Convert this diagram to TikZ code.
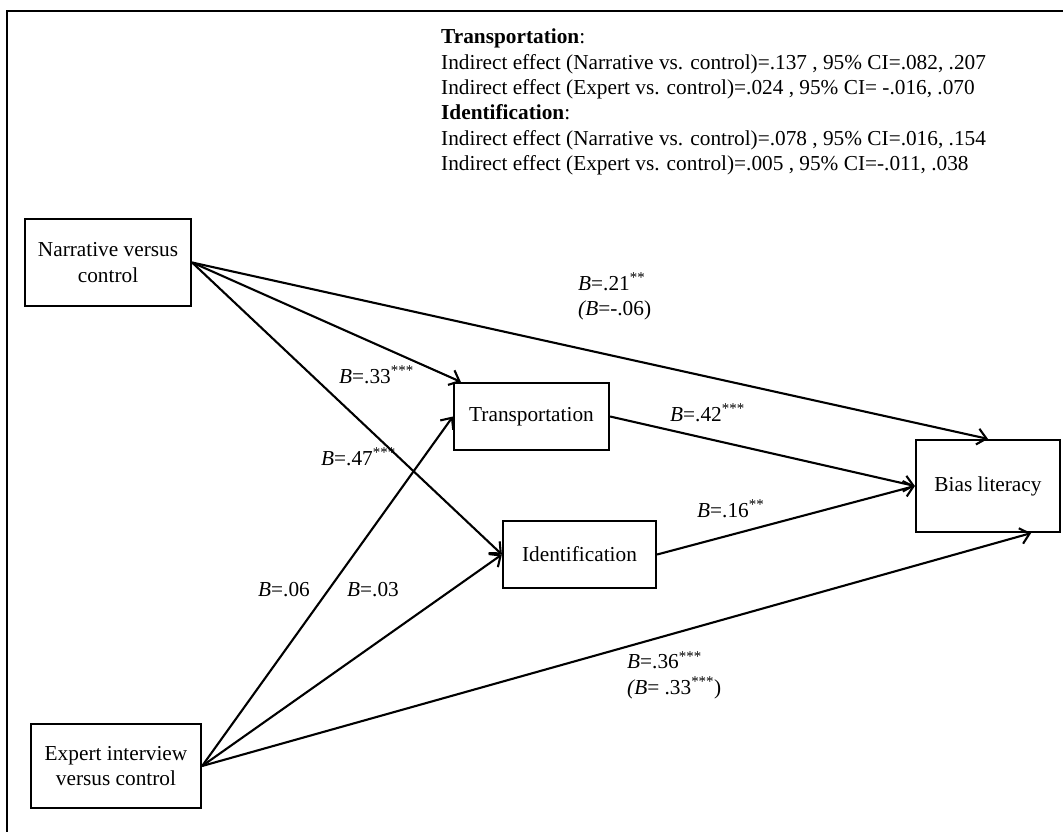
\documentclass[tikz,border=0pt]{standalone}
\usepackage{fontspec}
\setmainfont{Liberation Serif}
\usepackage{tikz}
\usetikzlibrary{arrows.meta,positioning}

\begin{document}
\begin{tikzpicture}[
  x=1pt, y=-1pt,
  every node/.style={font=\fontsize{21.3}{25.3}\selectfont, inner sep=0pt},
  var/.style={draw, line width=2.2pt, align=center},
  est/.style={anchor=west, align=left},
  arr/.style={-{Straight Barb[length=9pt,width=16pt]}, line width=2.1pt}
]
  \useasboundingbox (0,0) rectangle (1063,832);
  \draw[line width=2.4pt] (7,832) -- (7,11) -- (1063,11);

  \node[var, minimum width=166pt, minimum height=87pt] (nar)   at (108,262.5) {Narrative versus\\control};
  \node[var, minimum width=170pt, minimum height=84pt] (exp)   at (116,766)   {Expert interview\\versus control};
  \node[var, minimum width=155pt, minimum height=67pt] (trans) at (531.5,416.5) {Transportation};
  \node[var, minimum width=153pt, minimum height=67pt] (ident) at (579.5,554.5) {Identification};
  \node[var, minimum width=144pt, minimum height=92pt] (bias)  at (988,486)   {Bias literacy};

  \draw[arr] (nar.east) -- (bias.north);
  \draw[arr] (nar.east) -- ([xshift=8pt]trans.north west);
  \draw[arr] (nar.east) -- (ident.west);
  \draw[arr] (exp.east) -- (trans.west);
  \draw[arr] (exp.east) -- (ident.west);
  \draw[arr] (exp.east) -- ([xshift=-30pt]bias.south east);
  \draw[arr] (trans.east) -- (bias.west);
  \draw[arr] (ident.east) -- (bias.west);

  \node[est] (e21) at (578,296.5) {\textit{B}=.21\textsuperscript{**}\\\textit{(B}=-.06)};
  \node[est] (e33) at (339,375) {\textit{B}=.33\textsuperscript{***}};
  \node[est] (e47) at (321,457) {\textit{B}=.47\textsuperscript{***}};
  \node[est] (e42) at (670,413) {\textit{B}=.42\textsuperscript{***}};
  \node[est] (e16) at (697,509) {\textit{B}=.16\textsuperscript{**}};
  \node[est] (e06) at (258,590) {\textit{B}=.06};
  \node[est] (e03) at (347,590) {\textit{B}=.03};
  \node[est] (e36) at (627,675) {\textit{B}=.36\textsuperscript{***}\\\textit{(B}= .33\textsuperscript{***})};

  \node[anchor=north west, align=left] (ind) at (441,29) {%
    \textbf{Transportation}:\\
    Indirect effect (Narrative vs. control)=.137 , 95\% CI=.082, .207\\
    Indirect effect (Expert vs. control)=.024 , 95\% CI= -.016, .070\\
    \textbf{Identification}:\\
    Indirect effect (Narrative vs. control)=.078 , 95\% CI=.016, .154\\
    Indirect effect (Expert vs. control)=.005 , 95\% CI=-.011, .038};
\end{tikzpicture}
\end{document}
